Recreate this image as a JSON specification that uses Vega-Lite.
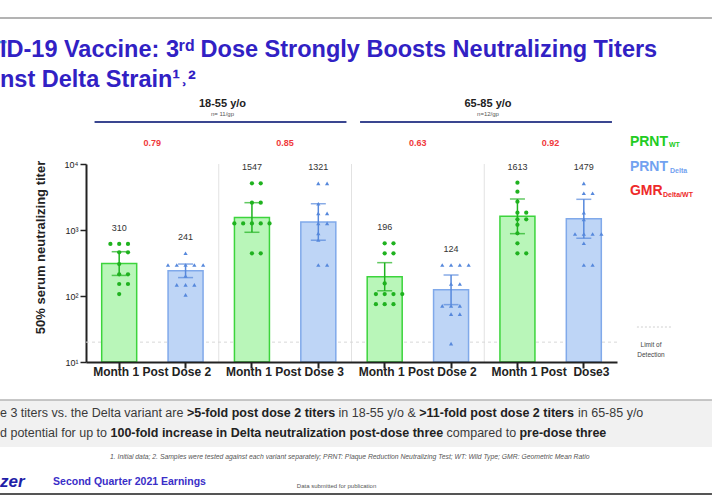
{
  "$schema": "https://vega.github.io/schema/vega-lite/v6.json",
  "width": 531,
  "height": 198,
  "autosize": {"type": "none"},
  "padding": {"left": 86, "top": 164, "right": 95, "bottom": 134},
  "background": "white",
  "config": {"view": {"stroke": null}, "font": "Liberation Sans"},
  "datasets": {
    "bars": [
      {"bar": "18-55 Dose2 WT", "strain": "WT", "gmt": 310, "lo": 205, "hi": 469},
      {"bar": "18-55 Dose2 Delta", "strain": "Delta", "gmt": 241, "lo": 190, "hi": 305},
      {"bar": "18-55 Dose3 WT", "strain": "WT", "gmt": 1547, "lo": 923, "hi": 2594},
      {"bar": "18-55 Dose3 Delta", "strain": "Delta", "gmt": 1321, "lo": 700, "hi": 2500},
      {"bar": "65-85 Dose2 WT", "strain": "WT", "gmt": 196, "lo": 120, "hi": 320},
      {"bar": "65-85 Dose2 Delta", "strain": "Delta", "gmt": 124, "lo": 74, "hi": 208},
      {"bar": "65-85 Dose3 WT", "strain": "WT", "gmt": 1613, "lo": 880, "hi": 2950},
      {"bar": "65-85 Dose3 Delta", "strain": "Delta", "gmt": 1479, "lo": 750, "hi": 2917}
    ],
    "dots": [
      {"bar": "18-55 Dose2 WT", "strain": "WT", "titer": 614},
      {"bar": "18-55 Dose2 WT", "strain": "WT", "titer": 614},
      {"bar": "18-55 Dose2 WT", "strain": "WT", "titer": 614},
      {"bar": "18-55 Dose2 WT", "strain": "WT", "titer": 459},
      {"bar": "18-55 Dose2 WT", "strain": "WT", "titer": 459},
      {"bar": "18-55 Dose2 WT", "strain": "WT", "titer": 305},
      {"bar": "18-55 Dose2 WT", "strain": "WT", "titer": 213},
      {"bar": "18-55 Dose2 WT", "strain": "WT", "titer": 213},
      {"bar": "18-55 Dose2 WT", "strain": "WT", "titer": 152},
      {"bar": "18-55 Dose2 WT", "strain": "WT", "titer": 152},
      {"bar": "18-55 Dose2 WT", "strain": "WT", "titer": 107},
      {"bar": "18-55 Dose2 Delta", "strain": "Delta", "titer": 444},
      {"bar": "18-55 Dose2 Delta", "strain": "Delta", "titer": 295},
      {"bar": "18-55 Dose2 Delta", "strain": "Delta", "titer": 295},
      {"bar": "18-55 Dose2 Delta", "strain": "Delta", "titer": 295},
      {"bar": "18-55 Dose2 Delta", "strain": "Delta", "titer": 295},
      {"bar": "18-55 Dose2 Delta", "strain": "Delta", "titer": 295},
      {"bar": "18-55 Dose2 Delta", "strain": "Delta", "titer": 201},
      {"bar": "18-55 Dose2 Delta", "strain": "Delta", "titer": 147},
      {"bar": "18-55 Dose2 Delta", "strain": "Delta", "titer": 147},
      {"bar": "18-55 Dose2 Delta", "strain": "Delta", "titer": 147},
      {"bar": "18-55 Dose2 Delta", "strain": "Delta", "titer": 104},
      {"bar": "18-55 Dose3 WT", "strain": "WT", "titer": 5100},
      {"bar": "18-55 Dose3 WT", "strain": "WT", "titer": 5100},
      {"bar": "18-55 Dose3 WT", "strain": "WT", "titer": 2594},
      {"bar": "18-55 Dose3 WT", "strain": "WT", "titer": 2594},
      {"bar": "18-55 Dose3 WT", "strain": "WT", "titer": 1260},
      {"bar": "18-55 Dose3 WT", "strain": "WT", "titer": 1260},
      {"bar": "18-55 Dose3 WT", "strain": "WT", "titer": 1260},
      {"bar": "18-55 Dose3 WT", "strain": "WT", "titer": 1260},
      {"bar": "18-55 Dose3 WT", "strain": "WT", "titer": 1260},
      {"bar": "18-55 Dose3 WT", "strain": "WT", "titer": 444},
      {"bar": "18-55 Dose3 WT", "strain": "WT", "titer": 444},
      {"bar": "18-55 Dose3 Delta", "strain": "Delta", "titer": 5100},
      {"bar": "18-55 Dose3 Delta", "strain": "Delta", "titer": 5100},
      {"bar": "18-55 Dose3 Delta", "strain": "Delta", "titer": 2500},
      {"bar": "18-55 Dose3 Delta", "strain": "Delta", "titer": 1790},
      {"bar": "18-55 Dose3 Delta", "strain": "Delta", "titer": 1790},
      {"bar": "18-55 Dose3 Delta", "strain": "Delta", "titer": 1260},
      {"bar": "18-55 Dose3 Delta", "strain": "Delta", "titer": 1260},
      {"bar": "18-55 Dose3 Delta", "strain": "Delta", "titer": 891},
      {"bar": "18-55 Dose3 Delta", "strain": "Delta", "titer": 705},
      {"bar": "18-55 Dose3 Delta", "strain": "Delta", "titer": 295},
      {"bar": "18-55 Dose3 Delta", "strain": "Delta", "titer": 295},
      {"bar": "65-85 Dose2 WT", "strain": "WT", "titer": 628},
      {"bar": "65-85 Dose2 WT", "strain": "WT", "titer": 628},
      {"bar": "65-85 Dose2 WT", "strain": "WT", "titer": 444},
      {"bar": "65-85 Dose2 WT", "strain": "WT", "titer": 444},
      {"bar": "65-85 Dose2 WT", "strain": "WT", "titer": 155},
      {"bar": "65-85 Dose2 WT", "strain": "WT", "titer": 107},
      {"bar": "65-85 Dose2 WT", "strain": "WT", "titer": 107},
      {"bar": "65-85 Dose2 WT", "strain": "WT", "titer": 107},
      {"bar": "65-85 Dose2 WT", "strain": "WT", "titer": 107},
      {"bar": "65-85 Dose2 WT", "strain": "WT", "titer": 75},
      {"bar": "65-85 Dose2 WT", "strain": "WT", "titer": 75},
      {"bar": "65-85 Dose2 WT", "strain": "WT", "titer": 75},
      {"bar": "65-85 Dose2 Delta", "strain": "Delta", "titer": 295},
      {"bar": "65-85 Dose2 Delta", "strain": "Delta", "titer": 295},
      {"bar": "65-85 Dose2 Delta", "strain": "Delta", "titer": 295},
      {"bar": "65-85 Dose2 Delta", "strain": "Delta", "titer": 295},
      {"bar": "65-85 Dose2 Delta", "strain": "Delta", "titer": 152},
      {"bar": "65-85 Dose2 Delta", "strain": "Delta", "titer": 152},
      {"bar": "65-85 Dose2 Delta", "strain": "Delta", "titer": 71},
      {"bar": "65-85 Dose2 Delta", "strain": "Delta", "titer": 71},
      {"bar": "65-85 Dose2 Delta", "strain": "Delta", "titer": 71},
      {"bar": "65-85 Dose2 Delta", "strain": "Delta", "titer": 53},
      {"bar": "65-85 Dose2 Delta", "strain": "Delta", "titer": 53},
      {"bar": "65-85 Dose2 Delta", "strain": "Delta", "titer": 19},
      {"bar": "65-85 Dose3 WT", "strain": "WT", "titer": 5210},
      {"bar": "65-85 Dose3 WT", "strain": "WT", "titer": 3800},
      {"bar": "65-85 Dose3 WT", "strain": "WT", "titer": 2690},
      {"bar": "65-85 Dose3 WT", "strain": "WT", "titer": 1830},
      {"bar": "65-85 Dose3 WT", "strain": "WT", "titer": 1830},
      {"bar": "65-85 Dose3 WT", "strain": "WT", "titer": 1450},
      {"bar": "65-85 Dose3 WT", "strain": "WT", "titer": 1450},
      {"bar": "65-85 Dose3 WT", "strain": "WT", "titer": 1200},
      {"bar": "65-85 Dose3 WT", "strain": "WT", "titer": 891},
      {"bar": "65-85 Dose3 WT", "strain": "WT", "titer": 628},
      {"bar": "65-85 Dose3 WT", "strain": "WT", "titer": 444},
      {"bar": "65-85 Dose3 WT", "strain": "WT", "titer": 444},
      {"bar": "65-85 Dose3 Delta", "strain": "Delta", "titer": 5100},
      {"bar": "65-85 Dose3 Delta", "strain": "Delta", "titer": 3600},
      {"bar": "65-85 Dose3 Delta", "strain": "Delta", "titer": 3600},
      {"bar": "65-85 Dose3 Delta", "strain": "Delta", "titer": 1830},
      {"bar": "65-85 Dose3 Delta", "strain": "Delta", "titer": 1450},
      {"bar": "65-85 Dose3 Delta", "strain": "Delta", "titer": 870},
      {"bar": "65-85 Dose3 Delta", "strain": "Delta", "titer": 870},
      {"bar": "65-85 Dose3 Delta", "strain": "Delta", "titer": 870},
      {"bar": "65-85 Dose3 Delta", "strain": "Delta", "titer": 870},
      {"bar": "65-85 Dose3 Delta", "strain": "Delta", "titer": 630},
      {"bar": "65-85 Dose3 Delta", "strain": "Delta", "titer": 295},
      {"bar": "65-85 Dose3 Delta", "strain": "Delta", "titer": 295}
    ],
    "gmr": [
      {"first": "18-55 Dose2 WT", "gmr": 0.79},
      {"first": "18-55 Dose3 WT", "gmr": 0.85},
      {"first": "65-85 Dose2 WT", "gmr": 0.63},
      {"first": "65-85 Dose3 WT", "gmr": 0.92}
    ],
    "ages": [
      {"age": "18-55 y/o", "n": "n= 11/gp", "first": "18-55 Dose2 WT", "mid": "18-55 Dose2 Delta", "last": "18-55 Dose3 Delta"},
      {"age": "65-85 y/o", "n": "n=12/gp", "first": "65-85 Dose2 WT", "mid": "65-85 Dose2 Delta", "last": "65-85 Dose3 Delta"}
    ],
    "seps": [
      {"after": "18-55 Dose2 Delta"},
      {"after": "18-55 Dose3 Delta"},
      {"after": "65-85 Dose2 Delta"}
    ]
  },
  "layer": [
    {
      "data": {"values": [{}]},
      "mark": {"type": "rect", "fill": "#f1f1f1"},
      "encoding": {
        "x": {"datum": "18-55 Dose2 WT", "bandPosition": -2.888},
        "x2": {"datum": "18-55 Dose2 WT", "bandPosition": 17.35},
        "y": {"datum": 2.656},
        "y2": {"datum": 0.515}
      }
    },
    {
      "data": {"name": "seps"},
      "mark": {"type": "rule", "color": "#e2e2e2", "strokeWidth": 1},
      "encoding": {
        "x": {"field": "after", "type": "nominal", "bandPosition": 1.4435},
        "y": {"datum": 10},
        "y2": {"datum": 10000}
      }
    },
    {
      "data": {"values": [{}]},
      "mark": {"type": "rule", "color": "#d8d8d8", "strokeDash": [3, 3], "strokeWidth": 1},
      "encoding": {"y": {"datum": 20}}
    },
    {
      "data": {"name": "bars"},
      "mark": {"type": "bar", "strokeWidth": 1.5, "width": 35},
      "encoding": {
        "x": {
          "field": "bar", "type": "nominal",
          "scale": {
            "domain": ["18-55 Dose2 WT", "18-55 Dose2 Delta", "18-55 Dose3 WT", "18-55 Dose3 Delta", "65-85 Dose2 WT", "65-85 Dose2 Delta", "65-85 Dose3 WT", "65-85 Dose3 Delta"],
            "paddingInner": 0.47, "paddingOuter": 0.235
          },
          "axis": {
            "title": null,
            "labelExpr": "datum.value == '18-55 Dose2 WT' || datum.value == '65-85 Dose2 WT' ? 'Month 1 Post Dose 2' : datum.value == '18-55 Dose3 WT' ? 'Month 1 Post Dose 3' : datum.value == '65-85 Dose3 WT' ? 'Month 1 Post\u00a0 Dose3' : ''",
            "labelAngle": 0, "labelAlign": "center", "labelOffset": 33, "labelFontSize": 12, "labelFontWeight": "bold", "labelColor": "#222",
            "labelOverlap": false, "labelBound": false, "labelFlush": false, "labelPadding": 3,
            "tickSize": 6, "tickWidth": 2, "tickColor": "#222", "domainColor": "#222", "domainWidth": 2
          }
        },
        "y": {
          "field": "gmt", "type": "quantitative",
          "scale": {"type": "log", "domain": [10, 10000]},
          "axis": {
            "title": "50% serum neutralizing titer",
            "values": [10, 100, 1000, 10000],
            "labelExpr": "datum.value == 10 ? '10¹' : datum.value == 100 ? '10²' : datum.value == 1000 ? '10³' : '10⁴'",
            "labelFontSize": 9, "labelColor": "#222", "grid": false,
            "tickSize": 6, "tickWidth": 1.5, "tickColor": "#222", "domainColor": "#222", "domainWidth": 2,
            "titleFontSize": 13, "titleFontWeight": "bold", "titleColor": "#222", "titlePadding": 17, "titleY": 83
          }
        },
        "y2": {"datum": 10},
        "fill": {"field": "strain", "type": "nominal", "scale": {"domain": ["WT", "Delta"], "range": ["#b9f6b9", "#bed5f6"]}, "legend": null},
        "stroke": {"field": "strain", "type": "nominal", "scale": {"domain": ["WT", "Delta"], "range": ["#3cd43c", "#80a9ea"]}, "legend": null}
      }
    },
    {
      "data": {"name": "bars"},
      "mark": {"type": "rule", "strokeWidth": 1.5},
      "encoding": {
        "x": {"field": "bar", "type": "nominal"},
        "y": {"field": "lo", "type": "quantitative", "title": "50% serum neutralizing titer"},
        "y2": {"field": "hi"},
        "color": {"field": "strain", "type": "nominal", "scale": {"domain": ["WT", "Delta"], "range": ["#1fb21f", "#5688dc"]}, "legend": null}
      }
    },
    {
      "data": {"name": "bars"},
      "transform": [{"fold": ["lo", "hi"], "as": ["end", "ci"]}],
      "mark": {"type": "tick", "size": 15, "thickness": 1.5},
      "encoding": {
        "x": {"field": "bar", "type": "nominal"},
        "y": {"field": "ci", "type": "quantitative", "title": "50% serum neutralizing titer"},
        "color": {"field": "strain", "type": "nominal", "legend": null}
      }
    },
    {
      "data": {"name": "dots"},
      "transform": [{"window": [{"op": "row_number", "as": "k"}], "groupby": ["bar", "titer"]}],
      "mark": {"type": "point", "filled": true, "size": 18, "opacity": 1},
      "encoding": {
        "x": {"field": "bar", "type": "nominal"},
        "xOffset": {"field": "k", "type": "ordinal", "scale": {"domain": [5, 3, 1, 2, 4], "paddingInner": 0, "paddingOuter": 0}},
        "y": {"field": "titer", "type": "quantitative", "title": "50% serum neutralizing titer"},
        "color": {"field": "strain", "type": "nominal", "legend": null},
        "shape": {"field": "strain", "type": "nominal", "scale": {"domain": ["WT", "Delta"], "range": ["circle", "triangle-up"]}, "legend": null}
      }
    },
    {
      "data": {"name": "dots"},
      "transform": [
        {"aggregate": [{"op": "max", "field": "titer", "as": "top"}], "groupby": ["bar"]},
        {"lookup": "bar", "from": {"data": {"name": "bars"}, "key": "bar", "fields": ["gmt"]}}
      ],
      "mark": {"type": "text", "fontSize": 9, "color": "#333", "baseline": "middle", "dy": -16},
      "encoding": {
        "x": {"field": "bar", "type": "nominal"},
        "y": {"field": "top", "type": "quantitative", "title": "50% serum neutralizing titer"},
        "text": {"field": "gmt", "type": "quantitative", "format": "d"}
      }
    },
    {
      "data": {"name": "gmr"},
      "mark": {"type": "text", "fontSize": 9, "fontWeight": "bold", "color": "#f0393b", "baseline": "middle"},
      "encoding": {
        "x": {"field": "first", "type": "nominal", "bandPosition": 1.4435},
        "y": {"datum": 20800},
        "text": {"field": "gmr", "type": "quantitative", "format": ".2f"}
      }
    },
    {
      "data": {"name": "ages"},
      "mark": {"type": "text", "fontSize": 11, "fontWeight": "bold", "color": "#222", "baseline": "middle"},
      "encoding": {
        "x": {"field": "mid", "type": "nominal", "bandPosition": 1.55},
        "y": {"datum": 81100},
        "text": {"field": "age"}
      }
    },
    {
      "data": {"name": "ages"},
      "mark": {"type": "text", "fontSize": 6, "color": "#555", "baseline": "middle"},
      "encoding": {
        "x": {"field": "mid", "type": "nominal", "bandPosition": 1.55},
        "y": {"datum": 57300},
        "text": {"field": "n"}
      }
    },
    {
      "data": {"name": "ages"},
      "mark": {"type": "rule", "color": "#3a4690", "strokeWidth": 2},
      "encoding": {
        "x": {"field": "first", "type": "nominal", "bandPosition": -0.2},
        "x2": {"field": "last", "bandPosition": 1.3},
        "y": {"datum": 43300}
      }
    },
    {
      "data": {"values": [{"label": "PRNT"}]},
      "mark": {"type": "text", "fontSize": 14, "fontWeight": "bold", "color": "#22cc22", "align": "left", "baseline": "middle"},
      "encoding": {"x": {"datum": "65-85 Dose3 Delta", "bandPosition": 1.81}, "y": {"datum": 21900}, "text": {"field": "label"}}
    },
    {
      "data": {"values": [{"label": "WT"}]},
      "mark": {"type": "text", "fontSize": 7, "fontWeight": "bold", "color": "#22cc22", "align": "left", "baseline": "middle"},
      "encoding": {"x": {"datum": "65-85 Dose3 Delta", "bandPosition": 2.92}, "y": {"datum": 19400}, "text": {"field": "label"}}
    },
    {
      "data": {"values": [{"label": "PRNT"}]},
      "mark": {"type": "text", "fontSize": 14, "fontWeight": "bold", "color": "#72a2f0", "align": "left", "baseline": "middle"},
      "encoding": {"x": {"datum": "65-85 Dose3 Delta", "bandPosition": 1.81}, "y": {"datum": 9020}, "text": {"field": "label"}}
    },
    {
      "data": {"values": [{"label": "Delta"}]},
      "mark": {"type": "text", "fontSize": 7, "fontWeight": "bold", "color": "#72a2f0", "align": "left", "baseline": "middle"},
      "encoding": {"x": {"datum": "65-85 Dose3 Delta", "bandPosition": 2.95}, "y": {"datum": 7830}, "text": {"field": "label"}}
    },
    {
      "data": {"values": [{"label": "GMR"}]},
      "mark": {"type": "text", "fontSize": 14, "fontWeight": "bold", "color": "#ee2a2a", "align": "left", "baseline": "middle"},
      "encoding": {"x": {"datum": "65-85 Dose3 Delta", "bandPosition": 1.81}, "y": {"datum": 3900}, "text": {"field": "label"}}
    },
    {
      "data": {"values": [{"label": "Delta/WT"}]},
      "mark": {"type": "text", "fontSize": 7, "fontWeight": "bold", "color": "#ee2a2a", "align": "left", "baseline": "middle"},
      "encoding": {"x": {"datum": "65-85 Dose3 Delta", "bandPosition": 2.75}, "y": {"datum": 3390}, "text": {"field": "label"}}
    },
    {
      "data": {"values": [{}]},
      "mark": {"type": "rule", "color": "#d0d0d0", "strokeDash": [2, 2], "strokeWidth": 1},
      "encoding": {
        "x": {"datum": "65-85 Dose3 Delta", "bandPosition": 2.01},
        "x2": {"datum": "65-85 Dose3 Delta", "bandPosition": 2.98},
        "y": {"datum": 33.9}
      }
    },
    {
      "data": {"values": [{"label": ["Limit of", "Detection"]}]},
      "mark": {"type": "text", "fontSize": 6.5, "color": "#444", "align": "center", "baseline": "middle", "lineHeight": 10},
      "encoding": {"x": {"datum": "65-85 Dose3 Delta", "bandPosition": 2.41}, "y": {"datum": 17.8}, "text": {"field": "label"}}
    },
    {
      "data": {"values": [{}]},
      "mark": {"type": "rule", "color": "#9a9a9a", "strokeWidth": 1.5},
      "encoding": {
        "x": {"datum": "18-55 Dose2 WT", "bandPosition": -2.888},
        "x2": {"datum": "18-55 Dose2 WT", "bandPosition": 17.35},
        "y": {"datum": 1630000}
      }
    },
    {
      "data": {"values": [{}]},
      "mark": {"type": "rule", "color": "#4aa3df", "strokeWidth": 2.5},
      "encoding": {
        "x": {"datum": "18-55 Dose2 WT", "bandPosition": -2.888},
        "x2": {"datum": "18-55 Dose2 WT", "bandPosition": -2.7},
        "y": {"datum": 705000}
      }
    },
    {
      "data": {"values": [{"label": "ID-19 Vaccine: 3ʳᵈ Dose Strongly Boosts Neutralizing Titers"}]},
      "mark": {"type": "text", "fontSize": 23.5, "fontWeight": "bold", "color": "#3121c4", "align": "left", "baseline": "middle"},
      "encoding": {"x": {"datum": "18-55 Dose2 WT", "bandPosition": -2.888}, "y": {"datum": 533000}, "text": {"field": "label"}}
    },
    {
      "data": {"values": [{"label": "nst Delta Strain¹˒²"}]},
      "mark": {"type": "text", "fontSize": 23.5, "fontWeight": "bold", "color": "#3121c4", "align": "left", "baseline": "middle"},
      "encoding": {"x": {"datum": "18-55 Dose2 WT", "bandPosition": -2.888}, "y": {"datum": 185000}, "text": {"field": "label"}}
    },
    {
      "data": {"values": [{}]},
      "mark": {"type": "rule", "color": "#b5b5b5", "strokeWidth": 1.5},
      "encoding": {
        "x": {"datum": "18-55 Dose2 WT", "bandPosition": -2.888},
        "x2": {"datum": "18-55 Dose2 WT", "bandPosition": 17.35},
        "y": {"datum": 2.656}
      }
    },
    {
      "data": {"values": [{}]},
      "mark": {"type": "rule", "color": "#555", "strokeWidth": 2},
      "encoding": {
        "x": {"datum": "18-55 Dose2 WT", "bandPosition": -2.888},
        "x2": {"datum": "18-55 Dose2 WT", "bandPosition": 17.35},
        "y": {"datum": 0.1}
      }
    },
    {
      "data": {"values": [{"label": "e 3 titers vs. the Delta variant are"}]},
      "mark": {"type": "text", "fontSize": 12.5, "color": "#3a3a3a", "align": "left", "baseline": "middle"},
      "encoding": {"x": {"datum": "18-55 Dose2 WT", "bandPosition": -2.888}, "y": {"datum": 1.688}, "text": {"field": "label"}}
    },
    {
      "data": {"values": [{"label": ">5-fold post dose 2 titers"}]},
      "mark": {"type": "text", "fontSize": 12.5, "fontWeight": "bold", "color": "#222", "align": "left", "baseline": "middle"},
      "encoding": {"x": {"datum": "18-55 Dose2 WT", "bandPosition": 2.425}, "y": {"datum": 1.688}, "text": {"field": "label"}}
    },
    {
      "data": {"values": [{"label": "in 18-55 y/o &"}]},
      "mark": {"type": "text", "fontSize": 12.5, "color": "#3a3a3a", "align": "left", "baseline": "middle"},
      "encoding": {"x": {"datum": "18-55 Dose2 WT", "bandPosition": 6.737}, "y": {"datum": 1.688}, "text": {"field": "label"}}
    },
    {
      "data": {"values": [{"label": ">11-fold post dose 2 titers"}]},
      "mark": {"type": "text", "fontSize": 12.5, "fontWeight": "bold", "color": "#222", "align": "left", "baseline": "middle"},
      "encoding": {"x": {"datum": "18-55 Dose2 WT", "bandPosition": 9.031}, "y": {"datum": 1.688}, "text": {"field": "label"}}
    },
    {
      "data": {"values": [{"label": "in 65-85 y/o"}]},
      "mark": {"type": "text", "fontSize": 12.5, "color": "#3a3a3a", "align": "left", "baseline": "middle"},
      "encoding": {"x": {"datum": "18-55 Dose2 WT", "bandPosition": 13.542}, "y": {"datum": 1.688}, "text": {"field": "label"}}
    },
    {
      "data": {"values": [{"label": "d potential for up to"}]},
      "mark": {"type": "text", "fontSize": 12.5, "color": "#3a3a3a", "align": "left", "baseline": "middle"},
      "encoding": {"x": {"datum": "18-55 Dose2 WT", "bandPosition": -2.888}, "y": {"datum": 0.84}, "text": {"field": "label"}}
    },
    {
      "data": {"values": [{"label": "100-fold increase in Delta neutralization post-dose three"}]},
      "mark": {"type": "text", "fontSize": 12.5, "fontWeight": "bold", "color": "#222", "align": "left", "baseline": "middle"},
      "encoding": {"x": {"datum": "18-55 Dose2 WT", "bandPosition": 0.253}, "y": {"datum": 0.84}, "text": {"field": "label"}}
    },
    {
      "data": {"values": [{"label": "compared to"}]},
      "mark": {"type": "text", "fontSize": 12.5, "color": "#3a3a3a", "align": "left", "baseline": "middle"},
      "encoding": {"x": {"datum": "18-55 Dose2 WT", "bandPosition": 9.807}, "y": {"datum": 0.84}, "text": {"field": "label"}}
    },
    {
      "data": {"values": [{"label": "pre-dose three"}]},
      "mark": {"type": "text", "fontSize": 12.5, "fontWeight": "bold", "color": "#222", "align": "left", "baseline": "middle"},
      "encoding": {"x": {"datum": "18-55 Dose2 WT", "bandPosition": 11.879}, "y": {"datum": 0.84}, "text": {"field": "label"}}
    },
    {
      "data": {"values": [{"label": "1. Initial data; 2. Samples were tested against each variant separately; PRNT: Plaque Reduction Neutralizing Test; WT: Wild Type; GMR: Geometric Mean Ratio"}]},
      "mark": {"type": "text", "fontSize": 6.8, "fontStyle": "italic", "color": "#555", "align": "left", "baseline": "middle"},
      "encoding": {"x": {"datum": "18-55 Dose2 WT", "bandPosition": 0.239}, "y": {"datum": 0.364}, "text": {"field": "label"}}
    },
    {
      "data": {"values": [{"label": "zer"}]},
      "mark": {"type": "text", "fontSize": 17, "fontWeight": "bold", "fontStyle": "italic", "color": "#1f1fa8", "align": "left", "baseline": "middle"},
      "encoding": {"x": {"datum": "18-55 Dose2 WT", "bandPosition": -2.888}, "y": {"datum": 0.152}, "text": {"field": "label"}}
    },
    {
      "data": {"values": [{"label": "Second Quarter 2021 Earnings"}]},
      "mark": {"type": "text", "fontSize": 10.5, "fontWeight": "bold", "color": "#3a2ec8", "align": "left", "baseline": "middle"},
      "encoding": {"x": {"datum": "18-55 Dose2 WT", "bandPosition": -1.38}, "y": {"datum": 0.152}, "text": {"field": "label"}}
    },
    {
      "data": {"values": [{"label": "Data submitted for publication"}]},
      "mark": {"type": "text", "fontSize": 6, "color": "#555", "align": "left", "baseline": "middle"},
      "encoding": {"x": {"datum": "18-55 Dose2 WT", "bandPosition": 5.55}, "y": {"datum": 0.132}, "text": {"field": "label"}}
    }
  ]
}
